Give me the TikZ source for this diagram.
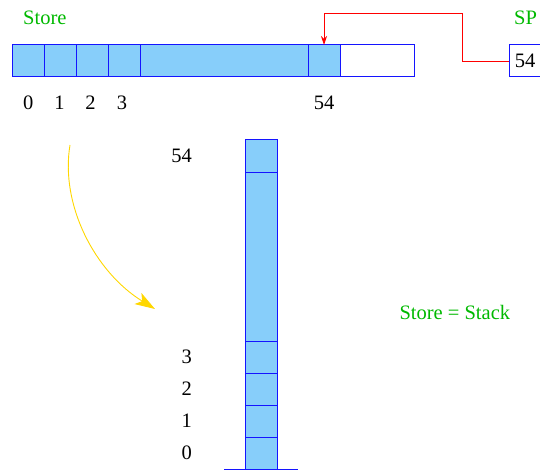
\documentclass[tikz,border=0pt]{standalone}
\usepackage{fontspec}
\setmainfont{Liberation Serif}
\usetikzlibrary{arrows.meta}
\definecolor{cellblue}{RGB}{135,206,250}
\definecolor{lblgreen}{RGB}{0,185,0}
\definecolor{arrowgold}{RGB}{255,215,0}
\definecolor{edgeblue}{RGB}{20,20,255}
\begin{document}
\begin{tikzpicture}[x=1pt,y=-1pt,
  every node/.style={font=\fontsize{20.5}{24}\selectfont},
  cell/.style={draw=edgeblue,line width=1pt,fill=cellblue,inner sep=0pt,outer sep=0pt,anchor=north west,minimum height=32pt},
  emptycell/.style={cell,fill=white},
  lbl/.style={inner sep=0pt,anchor=base},
  slbl/.style={inner sep=0pt,anchor=east,text height=13.5pt,text depth=0pt},
  glbl/.style={inner sep=0pt,anchor=base west,text=lblgreen}]
\useasboundingbox (0,0) rectangle (540,473);
% top store
\node[cell,minimum width=32pt] (c0) at (12,45) {};
\node[cell,minimum width=32pt] (c1) at (44,45) {};
\node[cell,minimum width=32pt] (c2) at (76,45) {};
\node[cell,minimum width=32pt] (c3) at (108,45) {};
\node[cell,minimum width=168pt] (cmid) at (140,45) {};
\node[cell,minimum width=32pt] (c54) at (308,45) {};
\node[emptycell,minimum width=74pt] (cfree) at (340,45) {};
\node[glbl] (storelbl) at (23,24.5) {Store};
\node[lbl] (l0) at (28.3,109.3) {0};
\node[lbl] (l1) at (59.5,109.3) {1};
\node[lbl] (l2) at (90.5,109.3) {2};
\node[lbl] (l3) at (122,109.3) {3};
\node[lbl] (l54) at (324,109.3) {54};
% SP
\node[glbl] (splbl) at (514,24.5) {SP};
\node[emptycell,minimum width=32pt] (sp) at (509,45) {54};
\coordinate (turn) at (462,13.5);
\draw[red,line width=0.9pt,-{Stealth[length=9pt,width=6pt]}] (sp.west) -| (turn) -| (c54.north);
% stack
\node[cell,minimum width=32pt] (s54) at (245,140) {};
\node[cell,minimum width=32pt,minimum height=169pt] (smid) at (245,172) {};
\node[cell,minimum width=32pt] (s3) at (245,341) {};
\node[cell,minimum width=32pt] (s2) at (245,373) {};
\node[cell,minimum width=32pt] (s1) at (245,405) {};
\node[cell,minimum width=32pt] (s0) at (245,437) {};
\coordinate (gl) at (224,469);
\coordinate (gr) at (298,469);
\draw[edgeblue,line width=1pt] (gl) -- (gr);
\coordinate (lx) at (192,0);
\node[slbl] (t54) at (s54.west -| lx) {54};
\node[slbl] (t3) at (s3.west -| lx) {3};
\node[slbl] (t2) at (s2.west -| lx) {2};
\node[slbl] (t1) at (s1.west -| lx) {1};
\node[slbl] (t0) at (s0.west -| lx) {0};
% curved arrow
\coordinate (ys) at (70,145);
\coordinate (ye) at (155,309);
\draw[arrowgold,line width=0.9pt,-{Stealth[length=20pt,width=13pt,inset=5pt]}] (ys) .. controls (60,205) and (95,272) .. (ye);
\node[glbl] (eq) at (399.3,319.5) {Store = Stack};
\end{tikzpicture}
\end{document}
